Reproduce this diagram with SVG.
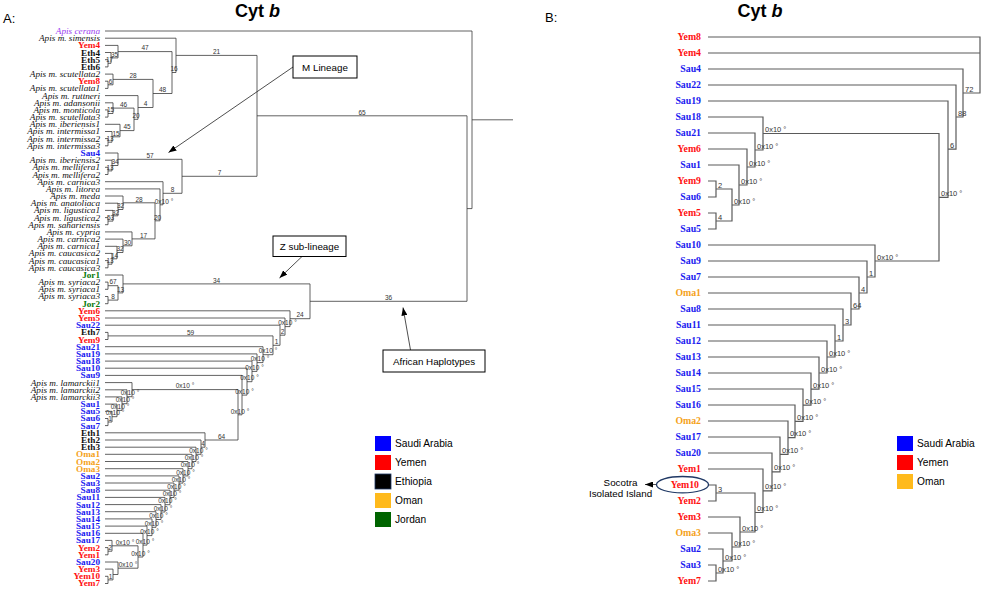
<svg xmlns="http://www.w3.org/2000/svg" width="982" height="590" viewBox="0 0 982 590">
<style>
.bg{fill:#fff}
.ta{fill:none;stroke:#3a3a3a;stroke-width:0.8}
.tb{fill:none;stroke:#5a5a5a;stroke-width:1.2}
.la text{font-family:"Liberation Serif",serif;font-size:9.2px;text-anchor:end}
.ap{font-style:italic;fill:#111}
.ce{font-style:italic;fill:#9a3cf0}
.y{font-weight:bold;fill:#ff1010}
.e{font-weight:bold;fill:#111}
.s{font-weight:bold;fill:#1a1af0}
.o{font-weight:bold;fill:#f5a21a}
.j{font-weight:bold;fill:#0a7a0a}
.lb text{font-family:"Liberation Serif",serif;font-size:9.8px;text-anchor:end;font-weight:bold}
.bsa{font-family:"Liberation Sans",sans-serif;font-size:6.5px;fill:#333;text-anchor:middle}
.bsb{font-family:"Liberation Sans",sans-serif;font-size:7.5px;fill:#333}
.title{font-family:"Liberation Sans",sans-serif;font-size:18px;font-weight:bold;fill:#000;text-anchor:middle}
.pl{font-family:"Liberation Sans",sans-serif;font-size:13px;fill:#000}
.box{fill:#fff;stroke:#000;stroke-width:1}
.bt{font-family:"Liberation Sans",sans-serif;font-size:9.8px;fill:#000;text-anchor:middle}
.arr{stroke:#222;stroke-width:0.8;fill:none}
.lg{font-family:"Liberation Sans",sans-serif;font-size:10.2px;fill:#000}
</style>
<defs>
<marker id="ah" viewBox="0 0 8 6" refX="8" refY="3" markerWidth="8" markerHeight="6" markerUnits="userSpaceOnUse" orient="auto">
<path d="M0,0 L8,3 L0,6 z" fill="#000"/>
</marker>
</defs>
<rect class="bg" x="0" y="0" width="982" height="590"/>

<text class="pl" x="3" y="23">A:</text>
<text class="pl" x="545" y="22" font-size="12">B:</text>
<text class="title" x="257.5" y="16.5">Cyt <tspan font-style="italic">b</tspan></text>
<text class="title" x="760" y="17">Cyt <tspan font-style="italic">b</tspan></text>

<g id="connectors">
<g id="treeA" class="ta">
<path d="M105 59.7H108V66.9H105"/>
<path d="M105 52.5H111V63.3H108"/>
<path d="M105 45.4H118V57.9H111"/>
<path d="M105 81.2H108V88.4H105"/>
<path d="M105 74.1H113V84.8H108"/>
<path d="M105 109.9H108V117.1H105"/>
<path d="M105 102.8H113V113.5H108"/>
<path d="M105 138.6H108V145.8H105"/>
<path d="M105 131.5H112V142.2H108"/>
<path d="M105 124.3H120V136.8H112"/>
<path d="M113 108.1H134V130.6H120"/>
<path d="M105 95.6H138V119.3H134"/>
<path d="M113 79.4H153V107.5H138"/>
<path d="M118 51.6H172V93.5H153"/>
<path d="M105 38.2H176V72.5H172"/>
<path d="M105 167.3H108V174.5H105"/>
<path d="M105 160.2H112V170.9H108"/>
<path d="M105 153H118V165.5H112"/>
<path d="M105 217.6H108V224.7H105"/>
<path d="M105 210.4H113V221.1H108"/>
<path d="M105 203.2H118V215.8H113"/>
<path d="M105 196H123V209.5H118"/>
<path d="M105 260.6H108V267.8H105"/>
<path d="M105 253.4H112V264.2H108"/>
<path d="M105 246.3H117V258.8H112"/>
<path d="M105 239.1H123V252.5H117"/>
<path d="M105 231.9H132V245.8H123"/>
<path d="M123 202.8H155V238.9H132"/>
<path d="M105 188.9H160V220.8H155"/>
<path d="M105 181.7H163V204.8H160"/>
<path d="M118 159.3H182V193.3H163"/>
<path d="M176 55.4H257V176.3H182"/>
<path d="M105 282.1H108V289.3H105"/>
<path d="M105 296.5H108V303.7H105"/>
<path d="M108 285.7H118V300.1H108"/>
<path d="M105 275H123V292.9H118"/>
<path d="M105 332.4H108V339.5H105"/>
<path d="M105 418.5H108V425.6H105"/>
<path d="M105 411.3H112V422H108"/>
<path d="M105 404.1H117V416.7H112"/>
<path d="M105 396.9H122V410.4H117"/>
<path d="M105 389.8H127V403.7H122"/>
<path d="M105 382.6H132V396.7H127"/>
<path d="M105 547.6H108V554.8H105"/>
<path d="M105 540.4H112V551.2H108"/>
<path d="M105 576.3H108V583.5H105"/>
<path d="M105 569.1H113V579.9H108"/>
<path d="M105 562H118V574.5H113"/>
<path d="M112 545.8H138V568.2H118"/>
<path d="M105 533.3H143V557H138"/>
<path d="M105 526.1H147V545.1H143"/>
<path d="M105 518.9H152V535.6H147"/>
<path d="M105 511.7H156V527.3H152"/>
<path d="M105 504.6H161V519.5H156"/>
<path d="M105 497.4H165V512H161"/>
<path d="M105 490.2H170V504.7H165"/>
<path d="M105 483H174V497.5H170"/>
<path d="M105 475.9H179V490.2H174"/>
<path d="M105 468.7H183V483.1H179"/>
<path d="M105 461.5H188V475.9H183"/>
<path d="M105 454.3H192V468.7H188"/>
<path d="M105 447.2H196V461.5H192"/>
<path d="M105 440H201V454.3H196"/>
<path d="M105 432.8H205V447.2H201"/>
<path d="M132 389.6H238V440H205"/>
<path d="M105 375.4H242V414.8H238"/>
<path d="M105 368.2H247V395.1H242"/>
<path d="M105 361.1H252V381.7H247"/>
<path d="M105 353.9H257V371.4H252"/>
<path d="M105 346.7H263V362.6H257"/>
<path d="M108 335.9H273V354.7H263"/>
<path d="M105 325.2H280V345.3H273"/>
<path d="M105 318H285V335.2H280"/>
<path d="M105 310.8H290V326.6H285"/>
<path d="M123 283.9H310V318.7H290"/>
<path d="M257 115.8H467V301.3H310"/>
<path d="M105 31H472V208.6H467M472 119.8H513"/>
</g>
<g id="treeB" class="tb">
<path d="M708 181H716V197H708"/>
<path d="M708 213H716V229H708"/>
<path d="M716 189H732V221H716"/>
<path d="M708 165H739V205H732"/>
<path d="M708 149H747V185H739"/>
<path d="M708 133H755V167H747"/>
<path d="M708 117H763V150H755"/>
<path d="M708 565H716V581H708"/>
<path d="M708 549H723V573H716"/>
<path d="M708 533H732V561H723"/>
<path d="M708 517H740V547H732"/>
<path d="M708 485H716V501H708"/>
<path d="M716 493H755V532H740"/>
<path d="M708 469H763V512.5H755"/>
<path d="M708 453H772V490.8H763"/>
<path d="M708 437H780V471.9H772"/>
<path d="M708 421H788V454.4H780"/>
<path d="M708 405H795V437.7H788"/>
<path d="M708 389H803V421.4H795"/>
<path d="M708 373H811V405.2H803"/>
<path d="M708 357H819V389.1H811"/>
<path d="M708 341H827V373H819"/>
<path d="M708 325H835V357H827"/>
<path d="M708 309H843V341H835"/>
<path d="M708 293H851V325H843"/>
<path d="M708 277H859V309H851"/>
<path d="M708 261H867V293H859"/>
<path d="M708 245H875V277H867"/>
<path d="M763 133.5H939V261H875"/>
<path d="M708 101H948V197.3H939"/>
<path d="M708 85H956V149.1H948"/>
<path d="M708 69H963V117H956"/>
<path d="M708 37H980V93H963M708 53H980"/>
</g>
<g id="callout-arrows">
<line class="arr" x1="293" y1="67" x2="168.5" y2="152.5" marker-end="url(#ah)"/>
<line class="arr" x1="302" y1="256.5" x2="279.5" y2="278" marker-end="url(#ah)"/>
<line class="arr" x1="410.5" y1="350" x2="403" y2="307.5" marker-end="url(#ah)"/>
<line class="arr" x1="656" y1="484.5" x2="645" y2="484.5" marker-end="url(#ah)"/>
</g>
</g>

<g id="supportA">
<text class="bsa" x="109.5" y="62">17</text>
<text class="bsa" x="114.5" y="56.6">35</text>
<text class="bsa" x="145" y="50.3">47</text>
<text class="bsa" x="110.5" y="83.5">6</text>
<text class="bsa" x="133" y="78.1">28</text>
<text class="bsa" x="110.5" y="112.2">15</text>
<text class="bsa" x="123.5" y="106.8">46</text>
<text class="bsa" x="110" y="140.9">13</text>
<text class="bsa" x="116" y="135.5">15</text>
<text class="bsa" x="127" y="129.2">45</text>
<text class="bsa" x="136" y="118">20</text>
<text class="bsa" x="145.5" y="106.2">4</text>
<text class="bsa" x="162.5" y="92.2">48</text>
<text class="bsa" x="174" y="71.2">16</text>
<text class="bsa" x="216.5" y="54">21</text>
<text class="bsa" x="110" y="169.6">13</text>
<text class="bsa" x="115" y="164.2">34</text>
<text class="bsa" x="150" y="158">57</text>
<text class="bsa" x="110.5" y="219.8">53</text>
<text class="bsa" x="115.5" y="214.5">32</text>
<text class="bsa" x="120.5" y="208.2">32</text>
<text class="bsa" x="139" y="201.5">28</text>
<text class="bsa" x="110" y="262.9">13</text>
<text class="bsa" x="114.5" y="257.5">14</text>
<text class="bsa" x="120" y="251.2">32</text>
<text class="bsa" x="127.5" y="244.5">30</text>
<text class="bsa" x="143.5" y="237.6">17</text>
<text class="bsa" x="157.5" y="219.5">20</text>
<text class="bsa" x="164" y="203.5">0x10 °</text>
<text class="bsa" x="172.5" y="192">8</text>
<text class="bsa" x="219.5" y="175">7</text>
<text class="bsa" x="362" y="114.5">65</text>
<text class="bsa" x="113" y="284.4">67</text>
<text class="bsa" x="113" y="298.8">8</text>
<text class="bsa" x="120.5" y="291.6">13</text>
<text class="bsa" x="216.5" y="282.6">34</text>
<text class="bsa" x="190.5" y="334.6">59</text>
<text class="bsa" x="110" y="420.7">1</text>
<text class="bsa" x="115" y="415.4">0x10 °</text>
<text class="bsa" x="120" y="409.1">0x10 °</text>
<text class="bsa" x="125" y="402.4">0x10 °</text>
<text class="bsa" x="130" y="395.4">0x10 °</text>
<text class="bsa" x="185" y="388.3">0x10 °</text>
<text class="bsa" x="110" y="549.9">2</text>
<text class="bsa" x="125" y="544.5">0x10 °</text>
<text class="bsa" x="110.5" y="578.6">1</text>
<text class="bsa" x="128" y="567">0x10 °</text>
<text class="bsa" x="140.5" y="555.7">0x10 °</text>
<text class="bsa" x="145" y="543.8">0x10 °</text>
<text class="bsa" x="149.5" y="534.3">0x10 °</text>
<text class="bsa" x="154" y="526">0x10 °</text>
<text class="bsa" x="158.5" y="518.2">0x10 °</text>
<text class="bsa" x="163" y="510.7">0x10 °</text>
<text class="bsa" x="167.5" y="503.4">0x10 °</text>
<text class="bsa" x="172" y="496.2">0x10 °</text>
<text class="bsa" x="176.5" y="489">0x10 °</text>
<text class="bsa" x="181" y="481.8">0x10 °</text>
<text class="bsa" x="185.5" y="474.6">0x10 °</text>
<text class="bsa" x="190" y="467.4">0x10 °</text>
<text class="bsa" x="194" y="460.2">0x10 °</text>
<text class="bsa" x="198.5" y="453">0x10 °</text>
<text class="bsa" x="203" y="445.9">4</text>
<text class="bsa" x="221.5" y="438.7">64</text>
<text class="bsa" x="240" y="413.5">0x10 °</text>
<text class="bsa" x="244.5" y="393.8">0x10 °</text>
<text class="bsa" x="249.5" y="380.4">0x10 °</text>
<text class="bsa" x="254.5" y="370.1">0x10 °</text>
<text class="bsa" x="260" y="361.3">0x10 °</text>
<text class="bsa" x="268" y="353.4">0x10 °</text>
<text class="bsa" x="276.5" y="344">1</text>
<text class="bsa" x="282.5" y="334">2</text>
<text class="bsa" x="287.5" y="325.3">0x10 °</text>
<text class="bsa" x="300" y="317.4">24</text>
<text class="bsa" x="388.5" y="300">36</text>
</g>

<g id="supportB" class="bsb">
<text x="718" y="187.5">2</text>
<text x="718" y="219.5">4</text>
<text x="734" y="203.5">0x10 °</text>
<text x="741" y="183.5">0x10 °</text>
<text x="749" y="165.5">0x10 °</text>
<text x="757" y="148.5">0x10 °</text>
<text x="765" y="132">0x10 °</text>
<text x="718" y="571.5">0x10 °</text>
<text x="725" y="559.5">0x10 °</text>
<text x="734" y="545.5">0x10 °</text>
<text x="742" y="530.5">0x10 °</text>
<text x="718" y="491.5">3</text>
<text x="757" y="511">0x10 °</text>
<text x="765" y="489.3">0x10 °</text>
<text x="774" y="470.4">0x10 °</text>
<text x="782" y="452.9">0x10 °</text>
<text x="790" y="436.2">0x10 °</text>
<text x="797" y="419.9">0x10 °</text>
<text x="805" y="403.7">0x10 °</text>
<text x="813" y="387.6">0x10 °</text>
<text x="821" y="371.5">0x10 °</text>
<text x="829" y="355.5">0x10 °</text>
<text x="837" y="339.5">1</text>
<text x="845" y="323.5">3</text>
<text x="853" y="307.5">64</text>
<text x="861" y="291.5">4</text>
<text x="869" y="275.5">1</text>
<text x="877" y="259.5">0x10 °</text>
<text x="941" y="195.8">0x10 °</text>
<text x="950" y="147.6">6</text>
<text x="958" y="115.5">88</text>
<text x="965" y="91.5">72</text>
</g>

<g id="leavesA" class="la">
<g id="a-cerana"><text class="ce" x="100" y="34">Apis cerana</text></g>
<g id="a-simensis"><text class="ap" x="100" y="41.2">Apis m. simensis</text></g>
<g id="a-Yem4"><text class="y" x="100" y="48.3">Yem4</text></g>
<g id="a-Eth4"><text class="e" x="100" y="55.5">Eth4</text></g>
<g id="a-Eth5"><text class="e" x="100" y="62.7">Eth5</text></g>
<g id="a-Eth6"><text class="e" x="100" y="69.8">Eth6</text></g>
<g id="a-scutellata2"><text class="ap" x="100" y="77">Apis m. scutellata2</text></g>
<g id="a-Yem8"><text class="y" x="100" y="84.2">Yem8</text></g>
<g id="a-scutellata1"><text class="ap" x="100" y="91.4">Apis m. scutellata1</text></g>
<g id="a-ruttneri"><text class="ap" x="100" y="98.5">Apis m. ruttneri</text></g>
<g id="a-adansonii"><text class="ap" x="100" y="105.7">Apis m. adansonii</text></g>
<g id="a-monticola"><text class="ap" x="100" y="112.9">Apis m. monticola</text></g>
<g id="a-scutellata3"><text class="ap" x="100" y="120.1">Apis m. scutellata3</text></g>
<g id="a-iberiensis1"><text class="ap" x="100" y="127.2">Apis m. iberiensis1</text></g>
<g id="a-intermissa1"><text class="ap" x="100" y="134.4">Apis m. intermissa1</text></g>
<g id="a-intermissa2"><text class="ap" x="100" y="141.6">Apis m. intermissa2</text></g>
<g id="a-intermissa3"><text class="ap" x="100" y="148.8">Apis m. intermissa3</text></g>
<g id="a-Sau4"><text class="s" x="100" y="155.9">Sau4</text></g>
<g id="a-iberiensis2"><text class="ap" x="100" y="163.1">Apis m. iberiensis2</text></g>
<g id="a-mellifera1"><text class="ap" x="100" y="170.3">Apis m. mellifera1</text></g>
<g id="a-mellifera2"><text class="ap" x="100" y="177.5">Apis m. mellifera2</text></g>
<g id="a-carnica3"><text class="ap" x="100" y="184.6">Apis m. carnica3</text></g>
<g id="a-litorea"><text class="ap" x="100" y="191.8">Apis m. litorea</text></g>
<g id="a-meda"><text class="ap" x="100" y="199">Apis m. meda</text></g>
<g id="a-anatoliaca"><text class="ap" x="100" y="206.2">Apis m. anatoliaca</text></g>
<g id="a-ligustica1"><text class="ap" x="100" y="213.3">Apis m. ligustica1</text></g>
<g id="a-ligustica2"><text class="ap" x="100" y="220.5">Apis m. ligustica2</text></g>
<g id="a-sahariensis"><text class="ap" x="100" y="227.7">Apis m. sahariensis</text></g>
<g id="a-cypria"><text class="ap" x="100" y="234.9">Apis m. cypria</text></g>
<g id="a-carnica2"><text class="ap" x="100" y="242">Apis m. carnica2</text></g>
<g id="a-carnica1"><text class="ap" x="100" y="249.2">Apis m. carnica1</text></g>
<g id="a-caucasica2"><text class="ap" x="100" y="256.4">Apis m. caucasica2</text></g>
<g id="a-caucasica1"><text class="ap" x="100" y="263.6">Apis m. caucasica1</text></g>
<g id="a-caucasica3"><text class="ap" x="100" y="270.7">Apis m. caucasica3</text></g>
<g id="a-Jor1"><text class="j" x="100" y="277.9">Jor1</text></g>
<g id="a-syriaca2"><text class="ap" x="100" y="285.1">Apis m. syriaca2</text></g>
<g id="a-syriaca1"><text class="ap" x="100" y="292.3">Apis m. syriaca1</text></g>
<g id="a-syriaca3"><text class="ap" x="100" y="299.4">Apis m. syriaca3</text></g>
<g id="a-Jor2"><text class="j" x="100" y="306.6">Jor2</text></g>
<g id="a-Yem6"><text class="y" x="100" y="313.8">Yem6</text></g>
<g id="a-Yem5"><text class="y" x="100" y="321">Yem5</text></g>
<g id="a-Sau22"><text class="s" x="100" y="328.1">Sau22</text></g>
<g id="a-Eth7"><text class="e" x="100" y="335.3">Eth7</text></g>
<g id="a-Yem9"><text class="y" x="100" y="342.5">Yem9</text></g>
<g id="a-Sau21"><text class="s" x="100" y="349.7">Sau21</text></g>
<g id="a-Sau19"><text class="s" x="100" y="356.8">Sau19</text></g>
<g id="a-Sau18"><text class="s" x="100" y="364">Sau18</text></g>
<g id="a-Sau10"><text class="s" x="100" y="371.2">Sau10</text></g>
<g id="a-Sau9"><text class="s" x="100" y="378.4">Sau9</text></g>
<g id="a-lamarckii1"><text class="ap" x="100" y="385.5">Apis m. lamarckii1</text></g>
<g id="a-lamarckii2"><text class="ap" x="100" y="392.7">Apis m. lamarckii2</text></g>
<g id="a-lamarckii3"><text class="ap" x="100" y="399.9">Apis m. lamarckii3</text></g>
<g id="a-Sau1"><text class="s" x="100" y="407.1">Sau1</text></g>
<g id="a-Sau5"><text class="s" x="100" y="414.2">Sau5</text></g>
<g id="a-Sau6"><text class="s" x="100" y="421.4">Sau6</text></g>
<g id="a-Sau7"><text class="s" x="100" y="428.6">Sau7</text></g>
<g id="a-Eth1"><text class="e" x="100" y="435.8">Eth1</text></g>
<g id="a-Eth2"><text class="e" x="100" y="442.9">Eth2</text></g>
<g id="a-Eth3"><text class="e" x="100" y="450.1">Eth3</text></g>
<g id="a-Oma1"><text class="o" x="100" y="457.3">Oma1</text></g>
<g id="a-Oma2"><text class="o" x="100" y="464.5">Oma2</text></g>
<g id="a-Oma3"><text class="o" x="100" y="471.6">Oma3</text></g>
<g id="a-Sau2"><text class="s" x="100" y="478.8">Sau2</text></g>
<g id="a-Sau3"><text class="s" x="100" y="486">Sau3</text></g>
<g id="a-Sau8"><text class="s" x="100" y="493.2">Sau8</text></g>
<g id="a-Sau11"><text class="s" x="100" y="500.3">Sau11</text></g>
<g id="a-Sau12"><text class="s" x="100" y="507.5">Sau12</text></g>
<g id="a-Sau13"><text class="s" x="100" y="514.7">Sau13</text></g>
<g id="a-Sau14"><text class="s" x="100" y="521.9">Sau14</text></g>
<g id="a-Sau15"><text class="s" x="100" y="529">Sau15</text></g>
<g id="a-Sau16"><text class="s" x="100" y="536.2">Sau16</text></g>
<g id="a-Sau17"><text class="s" x="100" y="543.4">Sau17</text></g>
<g id="a-Yem2"><text class="y" x="100" y="550.6">Yem2</text></g>
<g id="a-Yem1"><text class="y" x="100" y="557.7">Yem1</text></g>
<g id="a-Sau20"><text class="s" x="100" y="564.9">Sau20</text></g>
<g id="a-Yem3"><text class="y" x="100" y="572.1">Yem3</text></g>
<g id="a-Yem10"><text class="y" x="100" y="579.3">Yem10</text></g>
<g id="a-Yem7"><text class="y" x="100" y="586.4">Yem7</text></g>
</g>

<g id="leavesB" class="lb">
<g id="b-Yem8"><text class="y" x="701" y="40.4">Yem8</text></g>
<g id="b-Yem4"><text class="y" x="701" y="56.4">Yem4</text></g>
<g id="b-Sau4"><text class="s" x="701" y="72.4">Sau4</text></g>
<g id="b-Sau22"><text class="s" x="701" y="88.4">Sau22</text></g>
<g id="b-Sau19"><text class="s" x="701" y="104.4">Sau19</text></g>
<g id="b-Sau18"><text class="s" x="701" y="120.4">Sau18</text></g>
<g id="b-Sau21"><text class="s" x="701" y="136.4">Sau21</text></g>
<g id="b-Yem6"><text class="y" x="701" y="152.4">Yem6</text></g>
<g id="b-Sau1"><text class="s" x="701" y="168.4">Sau1</text></g>
<g id="b-Yem9"><text class="y" x="701" y="184.4">Yem9</text></g>
<g id="b-Sau6"><text class="s" x="701" y="200.4">Sau6</text></g>
<g id="b-Yem5"><text class="y" x="701" y="216.4">Yem5</text></g>
<g id="b-Sau5"><text class="s" x="701" y="232.4">Sau5</text></g>
<g id="b-Sau10"><text class="s" x="701" y="248.4">Sau10</text></g>
<g id="b-Sau9"><text class="s" x="701" y="264.4">Sau9</text></g>
<g id="b-Sau7"><text class="s" x="701" y="280.4">Sau7</text></g>
<g id="b-Oma1"><text class="o" x="701" y="296.4">Oma1</text></g>
<g id="b-Sau8"><text class="s" x="701" y="312.4">Sau8</text></g>
<g id="b-Sau11"><text class="s" x="701" y="328.4">Sau11</text></g>
<g id="b-Sau12"><text class="s" x="701" y="344.4">Sau12</text></g>
<g id="b-Sau13"><text class="s" x="701" y="360.4">Sau13</text></g>
<g id="b-Sau14"><text class="s" x="701" y="376.4">Sau14</text></g>
<g id="b-Sau15"><text class="s" x="701" y="392.4">Sau15</text></g>
<g id="b-Sau16"><text class="s" x="701" y="408.4">Sau16</text></g>
<g id="b-Oma2"><text class="o" x="701" y="424.4">Oma2</text></g>
<g id="b-Sau17"><text class="s" x="701" y="440.4">Sau17</text></g>
<g id="b-Sau20"><text class="s" x="701" y="456.4">Sau20</text></g>
<g id="b-Yem1"><text class="y" x="701" y="472.4">Yem1</text></g>
<g id="b-Yem10"><text class="y" x="699" y="488.4">Yem10</text></g>
<g id="b-Yem2"><text class="y" x="701" y="504.4">Yem2</text></g>
<g id="b-Yem3"><text class="y" x="701" y="520.4">Yem3</text></g>
<g id="b-Oma3"><text class="o" x="701" y="536.4">Oma3</text></g>
<g id="b-Sau2"><text class="s" x="701" y="552.4">Sau2</text></g>
<g id="b-Sau3"><text class="s" x="701" y="568.4">Sau3</text></g>
<g id="b-Yem7"><text class="y" x="701" y="584.4">Yem7</text></g>
</g>

<g id="socotra">
<ellipse cx="682.5" cy="484.7" rx="26" ry="8.2" fill="none" stroke="#1f3864" stroke-width="1.3"/>
<text class="bt" x="620.5" y="485.5" font-size="9.2">Socotra</text>
<text class="bt" x="620.5" y="496.7" font-size="9.2">Isolated Island</text>
</g>

<g id="box-m-lineage">
<rect class="box" x="293" y="56" width="64" height="22"/>
<text class="bt" x="325" y="70.5">M Lineage</text>
</g>
<g id="box-z-sub-lineage">
<rect class="box" x="273" y="236" width="73" height="20.5"/>
<text class="bt" x="309.5" y="249.8">Z sub-lineage</text>
</g>
<g id="box-african">
<rect class="box" x="383" y="350" width="102" height="22"/>
<text class="bt" x="434" y="364.5">African Haplotypes</text>
</g>

<g id="legendA">
<g id="lgA-sau"><rect x="375" y="436" width="16" height="15" fill="#0000ff"/><text class="lg" x="395" y="447.3">Saudi Arabia</text></g>
<g id="lgA-yem"><rect x="375" y="455" width="16" height="15" fill="#ff0000"/><text class="lg" x="395" y="466.3">Yemen</text></g>
<g id="lgA-eth"><rect x="375" y="474" width="16" height="15" fill="#000" stroke="#1f3864" stroke-width="0.8"/><text class="lg" x="395" y="485.3">Ethiopia</text></g>
<g id="lgA-oma"><rect x="375" y="493" width="16" height="15" fill="#ffba1c"/><text class="lg" x="395" y="504.3">Oman</text></g>
<g id="lgA-jor"><rect x="375" y="512" width="16" height="15" fill="#006400"/><text class="lg" x="395" y="523.3">Jordan</text></g>
</g>
<g id="legendB">
<g id="lgB-sau"><rect x="897" y="436" width="16" height="15" fill="#0000ff"/><text class="lg" x="917" y="447.3">Saudi Arabia</text></g>
<g id="lgB-yem"><rect x="897" y="455" width="16" height="15" fill="#ff0000"/><text class="lg" x="917" y="466.3">Yemen</text></g>
<g id="lgB-oma"><rect x="897" y="474" width="16" height="15" fill="#ffba1c"/><text class="lg" x="917" y="485.3">Oman</text></g>
</g>
</svg>
